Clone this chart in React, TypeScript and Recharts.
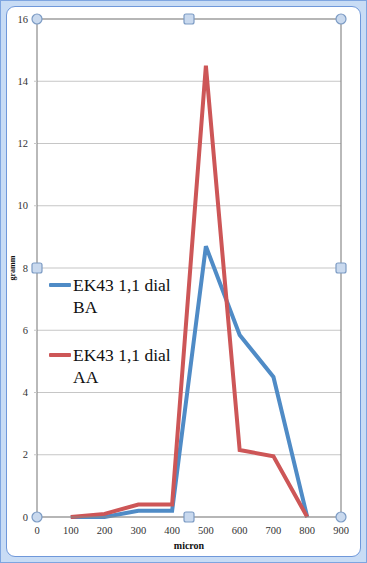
import { LineChart, Line, XAxis, YAxis, CartesianGrid, Legend, ReferenceLine, ReferenceDot } from 'recharts';

const microns = [100, 200, 300, 400, 500, 600, 700, 800];
const dialBA = [0, 0, 0.2, 0.2, 8.7, 5.85, 4.5, 0];
const dialAA = [0, 0.1, 0.4, 0.4, 14.5, 2.15, 1.95, 0];
const seriesNames = ['EK43 1,1 dial BA', 'EK43 1,1 dial AA'];
const xTicks = [0, 100, 200, 300, 400, 500, 600, 700, 800, 900];
const yTicks = [0, 2, 4, 6, 8, 10, 12, 14, 16];

const data = microns.map((m, i) => ({ micron: m, ba: dialBA[i], aa: dialAA[i] }));

const BLUE = '#4f8bc6';
const RED = '#cd5657';
const FONT = '"Liberation Serif", "DejaVu Serif", serif';

const RoundHandle = (props: any) => (
  <circle cx={props.cx} cy={props.cy} r={5} fill="#c9d9ee" stroke="#7c9bc4" strokeWidth={1.2} />
);

const SquareHandle = (props: any) => (
  <rect x={props.cx - 5} y={props.cy - 5} width={10} height={10} rx={2} fill="#c9d9ee" stroke="#7c9bc4" strokeWidth={1.2} />
);

const LegendBox = ({ payload }: any) => {
  const items = [...(payload || [])].sort(
    (a: any, b: any) => seriesNames.indexOf(a.value) - seriesNames.indexOf(b.value)
  );
  return (
    <div style={{ fontFamily: FONT, fontSize: 17.5, color: '#111', textAlign: 'left' }}>
      {items.map((entry: any, i: number) => {
        const words = String(entry.value).split(' ');
        const last = words.pop();
        return (
          <div key={i} style={{ display: 'flex', alignItems: 'flex-start', marginBottom: 26, lineHeight: '22px' }}>
            <div style={{ width: 22, height: 4, background: entry.color, marginTop: 9, marginRight: 2, borderRadius: 1 }} />
            <div>
              <div>{words.join(' ')}</div>
              <div>{last}</div>
            </div>
          </div>
        );
      })}
    </div>
  );
};

export default function App() {
  return (
    <div style={{ position: 'fixed', left: 0, top: 0, width: 367, height: 563, background: '#c8dcf5', boxSizing: 'border-box', border: '1px solid #7ea5e0' }}>
      <div style={{ position: 'absolute', left: 5, top: 5, right: 5, bottom: 5, background: '#fff', border: '1px solid #6f98da', borderRadius: 9 }} />
      <div style={{ position: 'absolute', left: -1, top: -1 }}>
        <LineChart width={367} height={563} data={data} margin={{ top: 19, right: 26, bottom: 16, left: 10 }}>
          <CartesianGrid vertical={false} stroke="#c6c6c6" strokeWidth={1.2} />
          <XAxis
            dataKey="micron"
            type="number"
            domain={[0, 900]}
            ticks={xTicks}
            interval={0}
            tickLine={false}
            axisLine={{ stroke: '#8a8a8a', strokeWidth: 1.2 }}
            tick={{ fontFamily: FONT, fontSize: 10.5, fill: '#333' }}
            tickMargin={4}
            height={30}
            label={{ value: 'micron', position: 'insideBottom', offset: -2, style: { fontFamily: FONT, fontSize: 10, fontWeight: 'bold', fill: '#111' } }}
          />
          <YAxis
            type="number"
            domain={[0, 16]}
            ticks={yTicks}
            interval={0}
            width={27}
            tickLine={{ stroke: '#c6c6c6' }}
            tickSize={3}
            tickMargin={6}
            axisLine={{ stroke: '#8a8a8a', strokeWidth: 1.2 }}
            tick={{ fontFamily: FONT, fontSize: 10.5, fill: '#333' }}
            label={{ value: 'gramm', angle: -90, position: 'insideLeft', offset: 2, style: { fontFamily: FONT, fontSize: 8, fontWeight: 'bold', fill: '#111', textAnchor: 'middle' } }}
          />
          <ReferenceLine y={16} stroke="#8a8a8a" strokeWidth={1.2} />
          <ReferenceLine x={900} stroke="#8a8a8a" strokeWidth={1.2} />
          <Legend
            layout="vertical"
            align="center"
            verticalAlign="middle"
            content={<LegendBox />}
            wrapperStyle={{ left: 49, top: 274, width: 140 }}
          />
          <Line dataKey="ba" name={seriesNames[0]} stroke={BLUE} strokeWidth={4} dot={false} isAnimationActive={false} strokeLinejoin="miter" />
          <Line dataKey="aa" name={seriesNames[1]} stroke={RED} strokeWidth={4} dot={false} isAnimationActive={false} strokeLinejoin="miter" />
          <ReferenceDot x={0} y={0} ifOverflow="visible" shape={RoundHandle} />
          <ReferenceDot x={0} y={16} ifOverflow="visible" shape={RoundHandle} />
          <ReferenceDot x={900} y={0} ifOverflow="visible" shape={RoundHandle} />
          <ReferenceDot x={900} y={16} ifOverflow="visible" shape={RoundHandle} />
          <ReferenceDot x={450} y={0} ifOverflow="visible" shape={SquareHandle} />
          <ReferenceDot x={450} y={16} ifOverflow="visible" shape={SquareHandle} />
          <ReferenceDot x={0} y={8} ifOverflow="visible" shape={SquareHandle} />
          <ReferenceDot x={900} y={8} ifOverflow="visible" shape={SquareHandle} />
        </LineChart>
      </div>
    </div>
  );
}
